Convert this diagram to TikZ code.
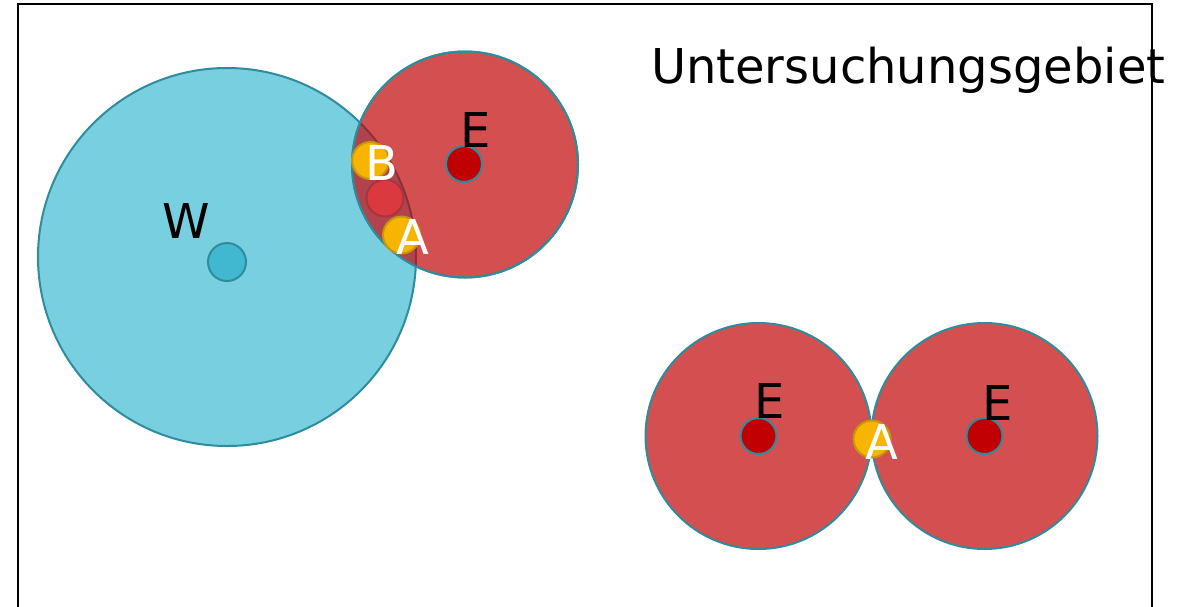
\documentclass[tikz,border=0pt]{standalone}
\usepackage{fontspec}
\setmainfont{DejaVu Sans}
\usepackage{xcolor}
\usetikzlibrary{positioning}
\definecolor{skyfill}{HTML}{78CFE0}
\definecolor{tealline}{HTML}{2E8C9C}
\definecolor{zonered}{HTML}{D44F4F}
\definecolor{lensred}{HTML}{B0434B}
\definecolor{lensline}{HTML}{8C3038}
\definecolor{dotred}{HTML}{C00000}
\definecolor{dotblue}{HTML}{42B8D0}
\definecolor{ambery}{HTML}{F7B500}
\definecolor{amberline}{HTML}{C8960A}
\definecolor{midred}{HTML}{D9393F}
\definecolor{midline}{HTML}{A8353A}
\tikzset{
	every node/.style={inner sep=0pt, outer sep=0pt},
	wzone/.style={circle, fill=skyfill, draw=tealline, line width=1pt, minimum size=189pt},
	ezone/.style={circle, fill=zonered, draw=tealline, line width=1pt, minimum size=113pt},
	edot/.style={circle, fill=dotred, draw=tealline, line width=1pt, minimum size=18pt},
	wdot/.style={circle, fill=dotblue, draw=tealline, line width=1pt, minimum size=19pt},
	hit/.style={circle, fill=ambery, draw=amberline, line width=1pt, minimum size=18.5pt},
	mid/.style={circle, fill=midred, draw=midline, line width=1pt, minimum size=18.5pt},
	lbl/.style={font=\fontsize{24}{28}\selectfont}
}

\begin{document}
\begin{tikzpicture}[x=0.5pt, y=-0.5pt]
	\clip (0,0) rectangle (1189,606);
	\draw[line width=1.2pt] (18,4) rectangle (1152,640);
	
	% Title
	\node (title) [lbl, anchor=base west] at (651,83) {Untersuchungsgebiet};
	
	% upper pair
	\node (w_zone) [wzone] at (227,257) {};
	\node (e_zone) [ezone] at (465,164.5) {};
	\begin{scope}
		\clip (e_zone.center) circle (56.5pt);
		\fill[lensred, draw=lensline, line width=1pt] (w_zone.center) circle (94.5pt);
	\end{scope}
	\draw[tealline, line width=1pt] (e_zone.center) circle (56.5pt);
	
	\node (w_dot) [wdot] at (227,262) {};
	\node (e_dot) [edot] at (464,164) {};
	\node (b_dot) [hit] at (370.5,160.5) {};
	\node (m_dot) [mid] at (385,198) {};
	\node (a_dot) [hit] at (401.5,235) {};
	
	\node (w_lbl) [lbl] at (186,221) {W};
	\node (e_lbl) [lbl] at (476,130) {E};
	\node (b_lbl) [lbl, white] at (382,163) {B};
	\node (a_lbl) [lbl, white] at (413,237) {A};
	
	% lower pair
	\node (e_left) [ezone] at (758.5,436) {};
	\node (e_right) [ezone, right = 0pt of e_left] {};
	\node (e_ldot) [edot] at (e_left.center) {};
	\node (e_rdot) [edot] at (e_right.center) {};
	\node (a_mid) [hit] at (872,439) {};
	
	\node (el_lbl) [lbl] at (770,401) {E};
	\node (er_lbl) [lbl] at (998,403) {E};
	\node (am_lbl) [lbl, white] at (882,442) {A};
	
\end{tikzpicture}
\end{document}
